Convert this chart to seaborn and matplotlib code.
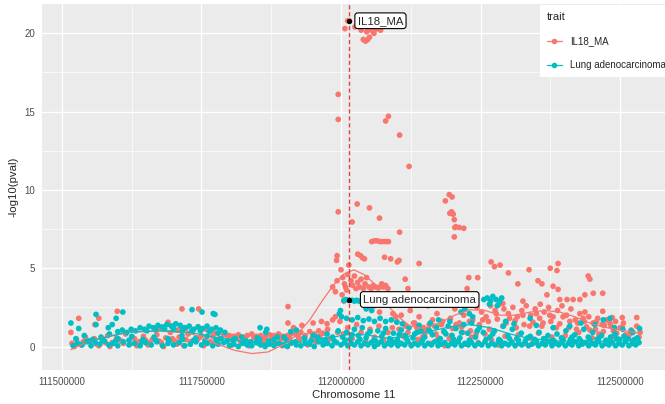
import pandas as pd
import matplotlib
matplotlib.use("Agg")
import matplotlib.pyplot as plt
from matplotlib.lines import Line2D
from matplotlib.ticker import MultipleLocator, FuncFormatter
import seaborn as sns

# positions in kb on chromosome 11, values are -log10(pval)
traits = ["IL18_MA", "Lung adenocarcinoma"]
trait_colors = ["#F8766D", "#00BFC4"]
lead_kb = 112015
lead_logp = [20.8, 3.0]

il18_left = [
    (111516, 0.9), (111530, 1.8), (111559, 1.4), (111566, 1.8), (111599, 2.25), (111715, 2.4), (111745, 2.4), (111690, 1.55),
    (111518, 0.2), (111526, 0.45), (111534, 0.1), (111542, 0.6), (111550, 0.3), (111558, 0.5), (111566, 0.05), (111574, 0.4),
    (111582, 0.7), (111590, 0.25), (111598, 0.55), (111606, 0.35), (111614, 0.8), (111622, 0.15), (111630, 0.5), (111638, 0.3),
    (111646, 0.65), (111654, 0.1), (111662, 0.45), (111670, 0.75), (111678, 0.25), (111686, 0.55), (111694, 0.9), (111702, 0.35),
    (111710, 0.6), (111718, 0.05), (111726, 0.8), (111734, 1.0), (111742, 0.4), (111750, 0.7), (111758, 1.1), (111766, 0.3),
    (111774, 0.85), (111782, 0.5), (111790, 0.75), (111798, 0.6), (111676, 1.2), (111698, 1.3), (111722, 1.15), (111744, 1.25),
    (111708, 1.05), (111522, 0.0), (111538, 0.3), (111562, 0.15), (111586, 0.0), (111610, 0.2), (111634, 0.05), (111658, 0.25),
    (111682, 0.0), (111706, 0.15), (111730, 0.3), (111754, 0.05), (111778, 0.2),
    (111546, 0.35), (111578, 0.25), (111602, 0.45), (111626, 0.6), (111650, 0.4), (111674, 0.35), (111698, 0.5), (111722, 0.45),
    (111746, 0.55), (111770, 0.65),
]

il18_mid = [
    (111800, 0.7), (111808, 0.65), (111816, 0.75), (111824, 0.6), (111832, 0.7), (111840, 0.8), (111848, 0.65), (111856, 0.7),
    (111864, 0.6), (111872, 0.75), (111880, 0.7), (111888, 0.8), (111896, 0.65), (111904, 0.7), (111912, 0.85), (111920, 0.75),
    (111928, 0.9), (111936, 0.7), (111944, 0.95), (111952, 0.8), (111960, 1.0), (111968, 0.85), (111976, 1.1),
    (111805, 0.1), (111820, 0.3), (111835, 0.05), (111850, 0.25), (111865, 0.15), (111880, 0.35), (111895, 0.05), (111910, 0.2),
    (111925, 0.4), (111940, 0.1), (111955, 0.3), (111970, 0.2),
    (111905, 2.55), (111905, 1.5), (111915, 1.2), (111930, 1.35), (111950, 1.5), (111965, 1.6), (111975, 1.45), (111985, 1.7),
    (111990, 1.9), (111998, 1.6),
    (111812, 0.5), (111828, 0.45), (111844, 0.55), (111860, 0.4), (111876, 0.5), (111892, 0.45), (111908, 0.55), (111924, 0.6),
    (111948, 0.5), (111962, 0.65), (111980, 0.5), (111994, 0.9),
]

il18_peak = [
    (112015, 20.8), (112007, 20.3), (112012, 20.8), (112025, 20.4), (112036, 20.2), (112040, 19.6), (112044, 19.5), (112048, 19.6),
    (112051, 19.75), (112046, 20.1), (112054, 20.2), (112060, 20.2), (112066, 20.3), (112071, 20.2), (112059, 20.0),
    (111995, 16.1), (111995, 14.5), (112080, 14.4), (112085, 14.7), (112105, 13.5), (112122, 11.5),
    (112194, 9.7), (112199, 9.55), (112187, 9.3), (112195, 8.5), (112198, 8.6), (112201, 8.45), (112203, 8.1), (112204, 7.6),
    (112206, 7.65), (112212, 7.6), (112220, 7.55), (112203, 7.0), (111995, 8.6), (112029, 9.1), (112051, 8.85), (112069, 8.2),
    (112020, 7.95), (112105, 7.3), (112055, 6.7), (112060, 6.75), (112065, 6.75), (112070, 6.7), (112075, 6.7), (112080, 6.7),
    (112085, 6.7), (112030, 5.9), (112035, 5.8), (112039, 5.65), (112042, 5.6), (112078, 5.7), (112089, 5.6), (111993, 5.8),
    (111992, 5.5), (112101, 5.4), (112104, 5.5), (112140, 5.3),
]

il18_near_peak = [
    (112000, 4.9), (112003, 4.4), (112006, 4.0), (112008, 3.8), (112010, 3.6), (112012, 4.6), (112014, 5.2), (112018, 4.2),
    (112021, 3.9), (112024, 4.5), (112027, 3.7), (112030, 4.1), (112033, 3.8), (112036, 4.3), (112040, 3.7), (112043, 4.0),
    (112046, 4.4), (112050, 3.8), (112054, 3.7), (112058, 3.9), (112062, 3.8), (112066, 3.75), (112070, 3.8), (112073, 4.0),
    (112076, 3.8), (112080, 3.9), (112084, 3.7), (112088, 3.1), (112002, 3.3), (112005, 2.9), (112039, 3.3), (112047, 2.5),
    (112060, 2.6), (112069, 2.2), (112078, 2.7), (112093, 2.1), (112098, 1.9), (112115, 4.3), (112120, 3.7), (111985, 3.8),
    (111990, 3.5), (111993, 4.2),
    (112004, 0.8), (112012, 1.2), (112020, 0.5), (112028, 1.4), (112036, 0.9), (112044, 0.3), (112052, 1.1), (112060, 0.6),
    (112068, 1.3), (112076, 0.4), (112084, 0.9), (112092, 1.2),
]

il18_right = [
    (112229, 4.4), (112245, 4.4), (112226, 3.7), (112269, 5.4), (112275, 5.1), (112285, 5.2), (112300, 4.7), (112337, 4.9),
    (112375, 5.0), (112389, 5.3), (112387, 4.85), (112353, 4.2), (112360, 4.0), (112317, 4.0), (112380, 3.85), (112389, 3.65),
    (112443, 4.5), (112446, 4.3), (112437, 3.3), (112452, 3.4), (112469, 3.4), (112369, 3.3), (112392, 3.0), (112405, 3.0),
    (112416, 3.0), (112428, 3.0), (112326, 2.9), (112357, 2.7), (112290, 2.75), (112437, 2.2), (112469, 2.25), (112504, 1.85),
    (112530, 1.85), (112486, 1.85), (112233, 2.7),
    (112100, 1.6), (112108, 2.0), (112116, 1.3), (112124, 2.3), (112132, 1.5), (112140, 1.9), (112148, 1.2), (112156, 2.6),
    (112164, 1.7), (112172, 2.1), (112180, 1.4), (112188, 2.8), (112196, 1.8), (112204, 2.4), (112212, 1.5), (112220, 2.0),
    (112228, 2.9), (112236, 1.7), (112244, 2.5), (112252, 2.2), (112260, 1.9), (112268, 2.6), (112276, 2.3), (112284, 2.7),
    (112292, 2.4), (112300, 2.1), (112308, 2.5), (112316, 1.9), (112324, 2.3), (112332, 2.6), (112340, 2.0), (112348, 2.4),
    (112356, 1.8), (112364, 2.2), (112372, 2.5), (112380, 1.9), (112388, 2.3), (112396, 2.6), (112404, 2.0), (112412, 2.4),
    (112420, 1.7), (112428, 2.1), (112436, 1.6), (112444, 1.9), (112452, 1.5), (112460, 1.8), (112468, 1.4), (112476, 1.7),
    (112484, 1.3), (112492, 1.6), (112500, 1.2),
    (112104, 1.1), (112120, 0.9), (112136, 1.2), (112152, 1.0), (112168, 1.3), (112184, 0.95), (112200, 1.15), (112216, 1.25),
    (112232, 1.0), (112248, 1.4), (112264, 1.6), (112280, 1.75), (112296, 1.5), (112312, 1.65), (112328, 1.4), (112344, 1.55),
    (112360, 1.3), (112376, 1.6), (112392, 1.45), (112408, 1.2), (112424, 1.5), (112440, 1.25), (112456, 1.1), (112472, 1.35),
    (112488, 1.0), (112504, 1.25), (112520, 1.05), (112536, 0.9),
    (112102, 0.3), (112114, 0.6), (112126, 0.1), (112138, 0.45), (112150, 0.8), (112162, 0.2), (112174, 0.55), (112186, 0.05),
    (112198, 0.7), (112210, 0.35), (112222, 0.15), (112234, 0.6), (112246, 0.25), (112258, 0.8), (112270, 0.4), (112282, 0.1),
    (112294, 0.65), (112306, 0.3), (112318, 0.75), (112330, 0.2), (112342, 0.5), (112354, 0.85), (112366, 0.35), (112378, 0.6),
    (112390, 0.15), (112402, 0.7), (112414, 0.4), (112426, 0.9), (112438, 0.25), (112450, 0.55), (112462, 0.8), (112474, 0.3),
    (112486, 0.6), (112498, 0.45), (112510, 0.75), (112522, 0.35), (112534, 0.6),
    (112110, 0.7), (112130, 1.5), (112146, 0.6), (112158, 1.4), (112170, 0.8), (112182, 1.6), (112194, 0.5), (112206, 1.4),
    (112218, 0.9), (112230, 1.6), (112242, 0.8), (112254, 1.7), (112266, 1.1), (112278, 2.1), (112290, 1.3), (112302, 1.8),
    (112314, 1.2), (112326, 2.0), (112338, 1.3), (112350, 2.1), (112362, 1.5), (112374, 2.0), (112386, 1.2), (112398, 1.9),
    (112410, 1.6), (112422, 1.1), (112434, 1.8), (112446, 1.05), (112458, 1.6), (112470, 0.95), (112482, 1.5), (112494, 0.85),
    (112506, 1.5), (112518, 0.8), (112530, 1.3),
]

lung_left = [
    (111516, 1.5), (111530, 1.15), (111561, 2.05), (111561, 1.4), (111583, 1.2), (111590, 1.4), (111597, 1.8), (111609, 2.2),
    (111733, 2.35), (111751, 2.2), (111771, 2.1), (111774, 2.05),
    (111600, 0.95), (111608, 1.05), (111616, 0.9), (111624, 1.1), (111632, 1.0), (111640, 1.2), (111648, 1.1), (111656, 1.3),
    (111664, 1.2), (111672, 1.35), (111680, 1.25), (111688, 1.4), (111696, 1.3), (111704, 1.45), (111712, 1.35), (111720, 1.2),
    (111728, 1.3), (111736, 1.1), (111744, 1.25), (111752, 1.15), (111760, 1.3), (111768, 1.1), (111776, 1.2), (111784, 1.05),
    (111792, 0.9), (111652, 1.0), (111668, 1.05), (111684, 1.1), (111700, 1.15), (111716, 1.05), (111732, 0.95), (111748, 1.0),
    (111764, 0.95), (111780, 0.85),
    (111520, 0.05), (111528, 0.2), (111536, 0.1), (111544, 0.3), (111552, 0.05), (111560, 0.25), (111568, 0.15), (111576, 0.35),
    (111584, 0.1), (111592, 0.2), (111600, 0.05), (111610, 0.3), (111620, 0.1), (111630, 0.2), (111640, 0.05), (111650, 0.25),
    (111660, 0.1), (111670, 0.3), (111680, 0.05), (111690, 0.2), (111700, 0.1), (111710, 0.25), (111720, 0.05), (111730, 0.15),
    (111740, 0.3), (111750, 0.1), (111760, 0.2), (111770, 0.05), (111780, 0.15), (111790, 0.25),
    (111525, 0.5), (111540, 0.7), (111555, 0.45), (111570, 0.6), (111585, 0.8), (111600, 0.5), (111625, 0.65), (111645, 0.45),
    (111665, 0.6), (111690, 0.5), (111715, 0.7), (111740, 0.55), (111760, 0.65), (111785, 0.5),
    (111548, 0.35), (111572, 0.45), (111596, 0.35), (111620, 0.4), (111644, 0.3), (111668, 0.4), (111692, 0.35), (111716, 0.45),
    (111736, 0.4), (111756, 0.35), (111776, 0.4), (111796, 0.35),
]

lung_mid = [
    (111800, 0.05), (111808, 0.15), (111816, 0.0), (111824, 0.2), (111832, 0.1), (111840, 0.05), (111848, 0.25), (111856, 0.1),
    (111864, 0.0), (111872, 0.15), (111880, 0.05), (111888, 0.2), (111896, 0.1), (111904, 0.0), (111912, 0.25), (111920, 0.1),
    (111928, 0.05), (111936, 0.2), (111944, 0.15), (111952, 0.0), (111960, 0.3), (111968, 0.1), (111976, 0.2), (111984, 0.05),
    (111992, 0.25),
    (111810, 0.5), (111830, 0.35), (111850, 0.55), (111855, 1.2), (111865, 0.9), (111867, 1.1), (111880, 0.45), (111898, 0.6),
    (111910, 0.95), (111920, 1.05), (111935, 0.5), (111950, 0.7), (111965, 0.4), (111975, 0.8), (111985, 0.6), (111995, 1.0),
    (111806, 0.4), (111822, 0.6), (111838, 0.3), (111854, 0.45), (111870, 0.35), (111886, 0.6), (111902, 0.4), (111918, 0.3),
    (111934, 0.55), (111946, 0.35), (111958, 0.6), (111972, 0.45), (111988, 0.35),
    (112005, 2.95), (112009, 3.0), (112013, 2.95), (112020, 2.95), (112024, 2.9), (112028, 2.95), (112032, 2.9),
    (111997, 2.1), (111999, 2.3), (112001, 1.9), (112010, 1.8), (112020, 1.7), (112030, 1.85), (112040, 1.65), (112050, 1.75),
    (112060, 1.6), (112070, 1.8), (112080, 1.6), (112090, 1.7), (112100, 1.55), (112045, 2.4), (112055, 2.3),
    (112000, 0.1), (112006, 0.25), (112012, 0.05), (112018, 0.2), (112024, 0.1), (112030, 0.3), (112036, 0.05), (112042, 0.2),
    (112048, 0.1), (112054, 0.25), (112060, 0.0), (112066, 0.15), (112072, 0.3), (112078, 0.05), (112084, 0.2), (112090, 0.1),
    (112096, 0.25), (112102, 0.05), (112108, 0.2), (112114, 0.1), (112120, 0.3), (112126, 0.05), (112132, 0.2), (112138, 0.1),
    (112144, 0.25), (112150, 0.05), (112156, 0.2), (112162, 0.1), (112168, 0.3), (112174, 0.05), (112180, 0.15), (112186, 0.25),
    (112192, 0.05), (112198, 0.2), (112204, 0.1), (112210, 0.3), (112216, 0.05), (112222, 0.2), (112228, 0.1), (112234, 0.25),
    (112240, 0.05), (112246, 0.2), (112252, 0.1), (112258, 0.3),
    (112003, 0.6), (112010, 0.9), (112017, 0.5), (112024, 1.1), (112031, 0.7), (112038, 1.2), (112045, 0.55), (112052, 0.95),
    (112059, 0.4), (112066, 1.0), (112073, 0.65), (112080, 1.15), (112087, 0.5), (112094, 0.85), (112101, 0.45), (112108, 1.05),
    (112115, 0.7), (112122, 1.2), (112129, 0.55), (112136, 0.9), (112143, 1.0), (112150, 0.6), (112157, 1.1), (112164, 0.75),
    (112171, 1.25), (112178, 0.5), (112185, 0.95), (112192, 1.3), (112199, 0.7), (112206, 1.15), (112213, 0.55), (112220, 1.4),
    (112227, 0.85), (112234, 1.5), (112241, 0.6), (112248, 1.2), (112255, 0.9),
    (112008, 0.4), (112020, 0.75), (112034, 0.45), (112048, 0.8), (112062, 0.35), (112076, 0.85), (112090, 0.4), (112104, 0.75),
    (112118, 0.45), (112132, 0.8), (112146, 0.4), (112160, 0.95), (112174, 0.35), (112188, 0.8), (112202, 0.45), (112216, 0.9),
    (112230, 0.4), (112244, 1.0),
    (112110, 1.45), (112140, 1.35), (112160, 1.5), (112175, 1.7), (112195, 1.6), (112215, 2.2), (112222, 2.4), (112230, 2.1),
    (112236, 1.9),
    (112256, 3.0), (112262, 3.1), (112268, 2.9), (112272, 3.2), (112278, 3.0), (112284, 2.85), (112288, 3.1), (112266, 2.7),
    (112280, 2.6),
]

lung_right = [
    (112264, 0.05), (112270, 0.2), (112276, 0.1), (112282, 0.3), (112288, 0.05), (112294, 0.2), (112300, 0.1), (112306, 0.25),
    (112312, 0.05), (112318, 0.2), (112324, 0.1), (112330, 0.3), (112336, 0.05), (112342, 0.15), (112348, 0.25), (112354, 0.05),
    (112360, 0.2), (112366, 0.1), (112372, 0.3), (112378, 0.05), (112384, 0.2), (112390, 0.1), (112396, 0.25), (112402, 0.05),
    (112408, 0.2), (112414, 0.1), (112420, 0.3), (112426, 0.05), (112432, 0.15), (112438, 0.25), (112444, 0.05), (112450, 0.2),
    (112456, 0.1), (112462, 0.3), (112468, 0.05), (112474, 0.2), (112480, 0.1), (112486, 0.25), (112492, 0.05), (112498, 0.2),
    (112504, 0.1), (112510, 0.3), (112516, 0.05), (112522, 0.2), (112528, 0.1), (112534, 0.25),
    (112267, 0.6), (112275, 1.0), (112283, 0.45), (112291, 1.3), (112299, 0.7), (112307, 1.1), (112315, 0.5), (112323, 0.85),
    (112331, 0.4), (112339, 0.65), (112347, 0.45), (112355, 0.9), (112363, 0.5), (112371, 0.7), (112379, 0.4), (112387, 0.8),
    (112395, 0.55), (112403, 1.0), (112411, 0.45), (112419, 0.75), (112427, 0.5), (112435, 1.1), (112443, 0.6), (112451, 0.9),
    (112459, 0.45), (112467, 0.7), (112475, 0.4), (112483, 0.6), (112491, 0.8), (112499, 0.45), (112507, 0.65), (112515, 0.5),
    (112523, 0.9), (112531, 0.55),
    (112260, 0.45), (112272, 0.8), (112286, 0.35), (112302, 0.5), (112318, 0.4), (112334, 0.55), (112350, 0.35), (112366, 0.5),
    (112382, 0.35), (112398, 0.45), (112414, 0.6), (112430, 0.35), (112446, 0.45), (112462, 0.55), (112478, 0.35), (112494, 0.5),
    (112510, 0.4), (112526, 0.45),
    (112295, 1.6), (112310, 1.45), (112339, 1.8), (112350, 1.35), (112380, 1.2), (112410, 1.3), (112430, 1.5), (112455, 1.4),
    (112470, 1.7), (112482, 1.8), (112490, 1.2), (112505, 1.1), (112520, 1.0), (112535, 1.15),
]

# loess-like trend lines as they appear in the picture
il18_smooth = [
    (111516, -0.2), (111545, 0.3), (111581, 0.65), (111627, 0.95), (111676, 1.0), (111729, 0.85), (111756, 0.5), (111774, 0.2),
    (111810, -0.25), (111840, -0.45), (111869, -0.35), (111896, 0.1), (111921, 0.75), (111944, 1.7), (111966, 2.9), (111986, 3.9),
    (112004, 4.6), (112023, 4.9), (112041, 4.6), (112057, 4.1), (112073, 3.3), (112088, 2.45), (112106, 1.8), (112124, 1.3),
    (112150, 1.15), (112177, 1.5), (112204, 2.0), (112231, 2.35), (112258, 2.3), (112285, 2.0), (112312, 2.0), (112339, 2.2),
    (112366, 2.3), (112392, 2.2), (112419, 1.9), (112446, 1.5), (112470, 1.25), (112500, 1.05), (112536, 0.85),
]
lung_smooth = [
    (111516, 0.1), (111568, 0.5), (111616, 0.9), (111676, 1.0), (111729, 0.9), (111774, 0.6), (111819, 0.35), (111864, 0.2),
    (111918, 0.25), (111966, 0.45), (112007, 0.75), (112043, 0.75), (112079, 0.55), (112115, 0.6), (112150, 0.9), (112195, 1.25),
    (112231, 1.4), (112267, 1.2), (112303, 0.8), (112339, 0.5), (112392, 0.35), (112446, 0.3), (112491, 0.35), (112536, 0.45),
]


def to_frame(pairs, trait):
    d = pd.DataFrame(pairs, columns=["pos_kb", "logp"])
    d["pos"] = d["pos_kb"] * 1000
    d["trait"] = trait
    return d


pts = pd.concat([
    to_frame(il18_left + il18_mid + il18_peak + il18_near_peak + il18_right, traits[0]),
    to_frame(lung_left + lung_mid + lung_right, traits[1]),
], ignore_index=True)
smooth = pd.concat([to_frame(il18_smooth, traits[0]), to_frame(lung_smooth, traits[1])], ignore_index=True)

sns.set_theme(style="darkgrid", rc={"axes.facecolor": "#EBEBEB", "grid.color": "white"})
plt.rcParams["font.family"] = ["Liberation Sans", "DejaVu Sans"]

fig = plt.figure(figsize=(6.65, 4.04), dpi=100)
ax = fig.add_axes([42 / 665, 34 / 404, 623 / 665, 366 / 404])
palette = dict(zip(traits, trait_colors))

sns.scatterplot(data=pts, x="pos", y="logp", hue="trait", palette=palette, s=17,
                linewidth=0, legend=False, ax=ax, zorder=2)
sns.lineplot(data=smooth, x="pos", y="logp", hue="trait", palette=palette, lw=0.9,
             legend=False, ax=ax, zorder=3)

ax.axvline(lead_kb * 1000, color="#E8423F", ls=(0, (3, 2)), lw=1.0, zorder=4)
ax.scatter([lead_kb * 1000] * 2, lead_logp, color="black", s=8, zorder=5)

box = dict(boxstyle="round,pad=0.25", fc="white", ec="black", lw=0.8)
ax.annotate(traits[0], xy=(lead_kb * 1000, lead_logp[0]), xytext=(6, 0), textcoords="offset points",
            ha="left", va="center", fontsize=8.2, bbox=box, zorder=6)
ax.annotate(traits[1], xy=(lead_kb * 1000, lead_logp[1]), xytext=(10, 0), textcoords="offset points",
            ha="left", va="center", fontsize=8.2, bbox=box, zorder=6)

ax.set_xlim(111464200, 112580600)
ax.set_ylim(-1.5, 21.87)
ax.xaxis.set_major_locator(MultipleLocator(250000))
ax.xaxis.set_minor_locator(MultipleLocator(125000))
ax.yaxis.set_major_locator(MultipleLocator(5))
ax.yaxis.set_minor_locator(MultipleLocator(2.5))
ax.xaxis.set_major_formatter(FuncFormatter(lambda v, p: f"{v:.0f}"))
ax.grid(which="major", color="white", lw=1.0)
ax.grid(which="minor", color="white", lw=0.5)
ax.tick_params(which="major", length=3, width=0.6, color="#333333", labelsize=7, labelcolor="#4D4D4D", pad=2)
ax.tick_params(which="minor", length=0)
for s in ax.spines.values():
    s.set_visible(False)

ax.set_xlabel("Chromosome 11", fontsize=8.2, labelpad=2)
ax.set_ylabel("-log10(pval)", fontsize=8.2, labelpad=4)

handles = [Line2D([0], [0], color=c, marker="o", markersize=3, lw=0.9) for c in trait_colors]
leg = ax.legend(handles, traits, title="trait", loc="upper left", bbox_to_anchor=(0.799, 0.997),
                fontsize=7, title_fontsize=8, frameon=True, facecolor="white", edgecolor="none",
                framealpha=1, handlelength=1.6, labelspacing=1.45, borderaxespad=0, alignment="left",
                fancybox=False, borderpad=0.7)

fig.savefig("out.png", dpi=100)
